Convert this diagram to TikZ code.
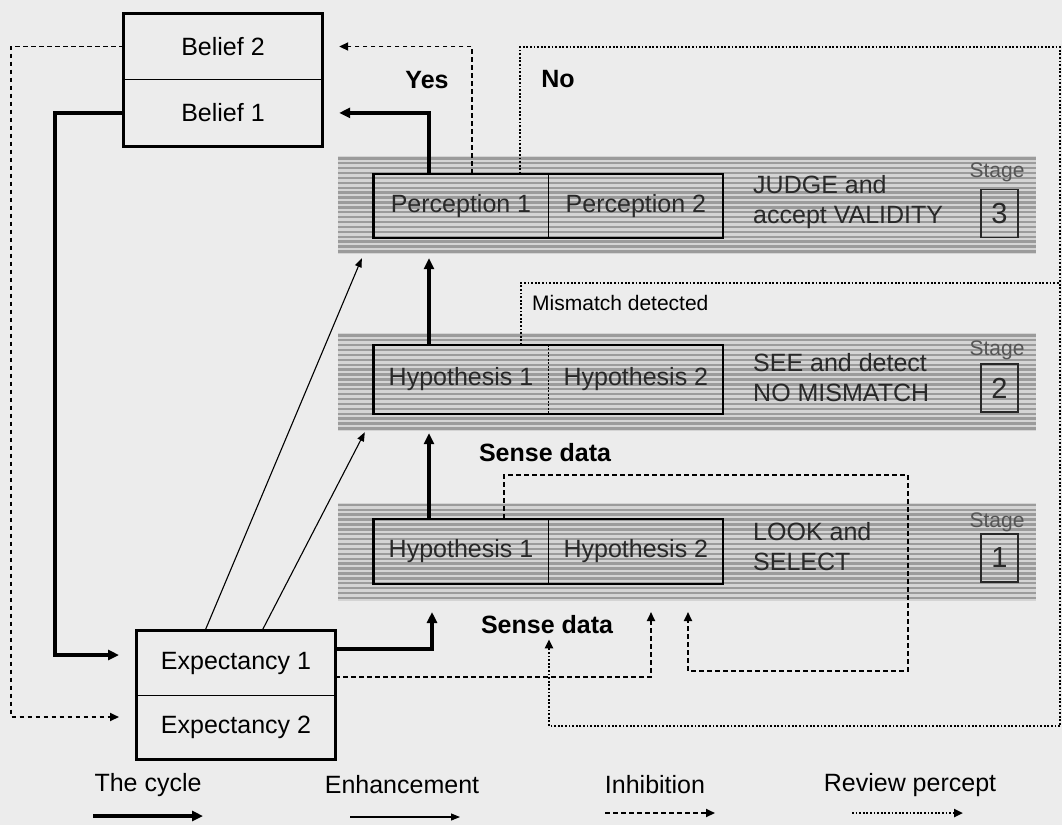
\documentclass[tikz,border=0pt]{standalone}
\usepackage{fontspec}
\setmainfont{Liberation Sans}
\usepackage{tikz}
\usetikzlibrary{
    positioning,
    arrows.meta,
    calc
}
\definecolor{paperGrey}{RGB}{236, 236, 236}
\definecolor{bandLight}{RGB}{212, 212, 212}
\definecolor{bandDark}{RGB}{155, 155, 155}
\definecolor{inkGrey}{RGB}{40, 40, 40}
\definecolor{stageGrey}{RGB}{85, 85, 85}

\begin{document}
\begin{tikzpicture}[x=1pt, y=-1pt,
    every node/.style={inner sep=0pt, font=\fontsize{25}{30}\selectfont},
    cell/.style={minimum width=198pt, minimum height=66pt},
    half/.style={minimum width=174.5pt, text=inkGrey},
    band/.style={minimum width=698pt, minimum height=98pt, fill=bandLight},
    task/.style={anchor=west, align=left, text=inkGrey},
    stagetag/.style={font=\fontsize{21}{24}\selectfont, text=stageGrey},
    stagebox/.style={draw=inkGrey, line width=1.4pt, minimum width=37pt, minimum height=48pt,
        text=inkGrey, font=\fontsize{29}{30}\selectfont},
    tag/.style={font=\fontsize{25}{30}\selectfont\bfseries},
    cyclearrow/.style={line width=3.4pt, -{Triangle[length=11pt, width=10pt]}},
    enhance/.style={line width=1.1pt, -{Triangle[length=9pt, width=7pt]}},
    inhibit/.style={line width=1.9pt, dash pattern=on 4.5pt off 3.5pt, -{Triangle[length=9pt, width=8pt]}},
    review/.style={line width=2.3pt, dash pattern=on 1.8pt off 1.8pt, -{Triangle[length=9pt, width=8pt]}}
]
    \fill[paperGrey] (0,0) rectangle (1062,825);
    \useasboundingbox (0,0) rectangle (1062,825);

    % the three stages
    \node[band] (band3) at (687,205) {};
    \node[band] (band2) at (687,382) {};
    \node[band] (band1) at (687,551.5) {};
    \foreach \b in {band3, band2, band1} {
        \foreach \k in {0,...,19}
            \draw[bandDark, line width=2.4pt] ($(\b.north west)+(0,2.5+4.9*\k)$) -- ($(\b.north east)+(0,2.5+4.9*\k)$);
    }

    % belief and expectancy
    \node[cell] (bel2) at (223,46.5) {Belief 2};
    \node[cell, below=0pt of bel2] (bel1) {Belief 1};
    \draw[line width=3pt] (bel2.north west) rectangle (bel1.south east);
    \draw[line width=1.3pt] (bel2.south west) -- (bel2.south east);

    \node[cell, minimum height=64pt] (exp1) at (236,663) {Expectancy 1};
    \node[cell, minimum height=64pt, below=0pt of exp1] (exp2) {Expectancy 2};
    \draw[line width=3pt] (exp1.north west) rectangle (exp2.south east);
    \draw[line width=1.3pt] (exp1.south west) -- (exp1.south east);

    % stage 3
    \node[half, minimum height=64pt] (perc1) at (461,206) {Perception 1};
    \node[half, minimum height=64pt, right=0pt of perc1] (perc2) {Perception 2};
    \draw[line width=2.2pt] (perc1.north west) rectangle (perc2.south east);
    \draw[line width=1.2pt] (perc1.north east) -- (perc1.south east);
    \node[task] (judge) at (753,202) {JUDGE and\\accept VALIDITY};
    \node[stagetag] (tag3) at (997,172) {Stage};
    \node[stagebox] (num3) at (999.5,213.5) {3};

    % stage 2
    \node[half, minimum height=69pt] (h21) at (461,379.5) {Hypothesis 1};
    \node[half, minimum height=69pt, right=0pt of h21] (h22) {Hypothesis 2};
    \draw[line width=2.2pt] (h21.north west) rectangle (h22.south east);
    \draw[line width=1pt, dash pattern=on 2pt off 1.5pt] (h21.north east) -- (h21.south east);
    \node[task] (see) at (753,377.5) {SEE and detect\\NO MISMATCH};
    \node[stagetag] (tag2) at (997,350) {Stage};
    \node[stagebox] (num2) at (999.5,388) {2};

    % stage 1
    \node[half, minimum height=65pt] (h11) at (461,551.5) {Hypothesis 1};
    \node[half, minimum height=65pt, right=0pt of h11] (h12) {Hypothesis 2};
    \draw[line width=2.2pt] (h11.north west) rectangle (h12.south east);
    \draw[line width=1.2pt] (h11.north east) -- (h11.south east);
    \node[task] (look) at (753,547) {LOOK and\\SELECT};
    \node[stagetag] (tag1) at (997,522) {Stage};
    \node[stagebox] (num1) at (999.5,558) {1};

    % labels
    \node[tag] (yes) at (427,80) {Yes};
    \node[tag] (no) at (558,79) {No};
    \node[font=\fontsize{21}{24}\selectfont, anchor=west] (mismatch) at (532,303) {Mismatch detected};
    \node[tag] (sense2) at (545,453) {Sense data};
    \node[tag] (sense1) at (547,625) {Sense data};

    % corners of the long returns
    \coordinate (lft) at (55,655);
    \coordinate (cyin) at (119,655);
    \coordinate (farleft) at (11,717);
    \coordinate (ihin) at (119,717);
    \coordinate (rtop) at (1060,47);
    \coordinate (rmid) at (1060,283);
    \coordinate (rbot) at (1060,726);
    \coordinate (lp) at (908,475);
    \coordinate (lpin) at (688,612);
    \coordinate (expin) at (432,612);
    \coordinate (ihup) at (651,612);

    % the cycle
    \draw[cyclearrow] (bel1.west) -| (lft) -- (cyin);
    \draw[cyclearrow] ($(perc1.north)+(-32,0)$) |- ($(bel1.east)+(17,0)$);
    \draw[cyclearrow] ($(h21.north)+(-32,0)$) coordinate (up2) -- ($(up2 |- band3.south)+(0,4)$);
    \draw[cyclearrow] ($(h11.north)+(-32,0)$) coordinate (up1) -- ($(up1 |- band2.south)+(0,2)$);
    \draw[cyclearrow] ($(exp1.east)+(0,-14)$) -| (expin);

    % enhancement
    \draw[enhance] ($(exp1.north)+(-31,0)$) -- ($(band3.south west)+(24,4)$);
    \draw[enhance] ($(exp1.north)+(26,0)$) -- ($(band2.south west)+(27,1)$);

    % inhibition
    \draw[inhibit] (bel2.west) -| (farleft) -- (ihin);
    \draw[inhibit] ($(perc1.north)+(11,0)$) |- ($(bel2.east)+(17,0)$);
    \draw[inhibit] ($(exp1.east)+(0,14)$) -| (ihup);
    \draw[inhibit] ($(h11.north)+(43,0)$) |- (lp) |- ($(lpin)+(0,59)$) -- (lpin);

    % review percept
    \draw[review, -] ($(perc1.north)+(59,0)$) |- (rtop) -- (rbot);
    \draw[review, -] ($(h21.north)+(60,0)$) |- (rmid);
    \draw[review] (rbot) -| ($(sense1.south)+(2,5)$);

    % key
    \node (keycyc) at (148,785) {The cycle};
    \node (keyenh) at (402,785) {Enhancement};
    \node (keyinh) at (655,785) {Inhibition};
    \node (keyrev) at (910,785) {Review percept};
    \draw[cyclearrow] ($(keycyc.center)+(-55,31)$) -- ++(110,0);
    \draw[enhance] ($(keyenh.center)+(-52,32)$) -- ++(110,0);
    \draw[inhibit] ($(keyinh.center)+(-50,28)$) -- ++(110,0);
    \draw[review] ($(keyrev.center)+(-58,28)$) -- ++(111,0);
\end{tikzpicture}
\end{document}
